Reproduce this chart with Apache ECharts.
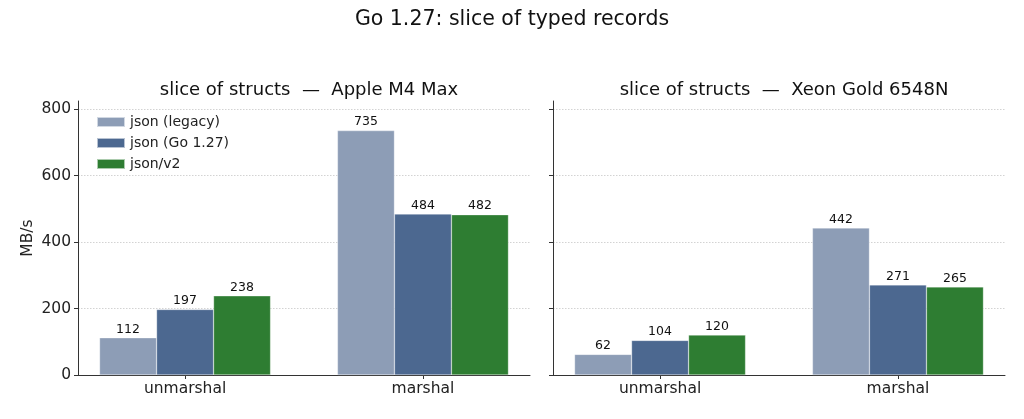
<!DOCTYPE html>
<html>
<head>
<meta charset="utf-8">
<script src="https://cdn.jsdelivr.net/npm/echarts@6/dist/echarts.min.js"></script>
<style>
  html, body { margin: 0; padding: 0; background: #fff; }
  #chart { width: 1024px; height: 419px; }
</style>
</head>
<body>
<div id="chart"></div>
<script>
// data
const categories = ['unmarshal', 'marshal'];
const seriesNames = ['json (legacy)', 'json (Go 1.27)', 'json/v2'];
const seriesColors = ['#8d9db6', '#4c6890', '#2e7d32'];
const appleValues = [
  [112, 735],
  [197, 484],
  [238, 482]
];
const xeonValues = [
  [62, 442],
  [104, 271],
  [120, 265]
];
const gridTicks = [200, 400, 600, 800];
const yTicks = [0, 200, 400, 600, 800];

const font = 'DejaVu Sans';
const chart = echarts.init(document.getElementById('chart'));

// value x axis so categories sit at 0 and 1 with matplotlib-like margins
const makeX = (idx) => ({
  type: 'value',
  gridIndex: idx,
  min: -0.45,
  max: 1.45,
  axisLine: { onZero: false, lineStyle: { color: '#333', width: 1 } },
  axisTick: { show: true, customValues: [0, 1], length: 4, lineStyle: { color: '#333' } },
  axisLabel: {
    customValues: [0, 1],
    color: '#222', fontSize: 15.5, fontFamily: font, margin: 6,
    formatter: v => categories[Math.round(v)] || ''
  },
  splitLine: { show: false }
});

const makeY = (idx, showLabels) => ({
  type: 'value',
  gridIndex: idx,
  min: 0,
  max: 824,
  name: showLabels ? 'MB/s' : '',
  nameLocation: 'middle',
  nameGap: 42,
  nameTextStyle: { color: '#222', fontSize: 15.5, fontFamily: font },
  axisLine: { show: true, onZero: false, lineStyle: { color: '#333', width: 1 } },
  axisTick: { show: true, customValues: yTicks, length: 4, lineStyle: { color: '#333' } },
  axisLabel: {
    show: showLabels,
    customValues: yTicks,
    color: '#222', fontSize: 15.5, fontFamily: font, margin: 7
  },
  splitLine: { show: false }
});

const makeSeries = (values, idx) => values.map((vals, i) => ({
  name: seriesNames[i],
  type: 'bar',
  xAxisIndex: idx,
  yAxisIndex: idx,
  data: vals.map((v, c) => [c, v]),
  barWidth: 57,
  barGap: '0%',
  itemStyle: { color: seriesColors[i], borderColor: 'rgba(255,255,255,0.6)', borderWidth: 0.5 },
  label: {
    show: true, position: 'top', distance: 2,
    color: '#111', fontSize: 12.5, fontFamily: font
  },
  markLine: i === 0 ? {
    silent: true,
    symbol: 'none',
    label: { show: false },
    lineStyle: { color: '#c8c8c8', type: [1.5, 1.5], width: 0.8 },
    data: gridTicks.map(t => ({ yAxis: t })),
    z: 0
  } : undefined
}));

const option = {
  backgroundColor: '#fff',
  animation: false,
  title: [
    { text: 'Go 1.27: slice of typed records', left: 'center', top: 4,
      textStyle: { fontSize: 20.5, fontWeight: 'normal', color: '#111', fontFamily: font } },
    { text: 'slice of structs  \u2014  Apple M4 Max', left: 304, top: 76, textAlign: 'center',
      textStyle: { fontSize: 18, fontWeight: 'normal', color: '#111', fontFamily: font } },
    { text: 'slice of structs  \u2014  Xeon Gold 6548N', left: 779, top: 76, textAlign: 'center',
      textStyle: { fontSize: 18, fontWeight: 'normal', color: '#111', fontFamily: font } }
  ],
  legend: {
    data: seriesNames,
    orient: 'vertical',
    left: 91,
    top: 110,
    itemWidth: 28,
    itemHeight: 10,
    itemGap: 7,
    textStyle: { fontSize: 14, color: '#222', fontFamily: font },
    icon: 'rect'
  },
  grid: [
    { left: 78, top: 101, width: 452, height: 274 },
    { left: 553, top: 101, width: 452, height: 274 }
  ],
  xAxis: [makeX(0), makeX(1)],
  yAxis: [makeY(0, true), makeY(1, false)],
  series: [...makeSeries(appleValues, 0), ...makeSeries(xeonValues, 1)]
};

chart.setOption(option);
</script>
</body>
</html>
